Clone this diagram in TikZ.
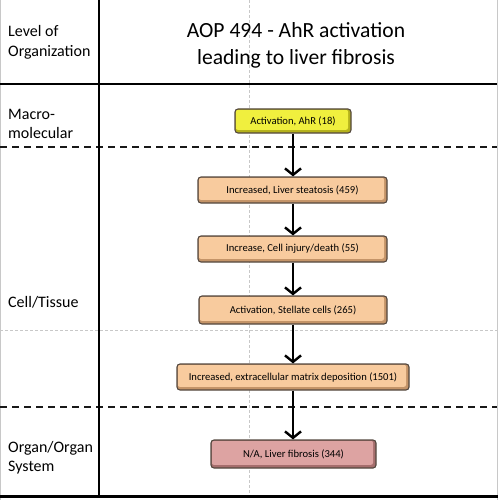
\documentclass[tikz,border=0pt]{standalone}
\usepackage{fontspec}
\setmainfont{Carlito}
\usetikzlibrary{arrows.meta}
\definecolor{peach}{HTML}{F8CB9E}
\definecolor{peachd}{HTML}{C49468}
\definecolor{yel}{HTML}{F0EF3E}
\definecolor{yeld}{HTML}{B5B21C}
\definecolor{pnk}{HTML}{DDA3A2}
\definecolor{pnkd}{HTML}{A66E6D}
\definecolor{bord}{HTML}{54483F}
\definecolor{gridg}{HTML}{C8C8C8}
\tikzset{
  keybox/.style 2 args={draw=bord, line width=1.1pt, rounded corners=3pt, fill=#2,
    font=\fontsize{10.6}{12}\selectfont, text=black, inner sep=0pt,
    path picture={\fill[#1, rounded corners=2pt]
      ([shift={(0.8pt,-0.8pt)}]path picture bounding box.north west) rectangle
      ([shift={(-3pt,3.2pt)}]path picture bounding box.south east);}},
  thickline/.style={line width=2.6pt, black},
  dline/.style={line width=1.9pt, black!90, dash pattern=on 7pt off 5pt},
  gline/.style={line width=0.6pt, gridg, dash pattern=on 3pt off 2pt},
  flow/.style={line width=2.4pt, -{Straight Barb[length=6.5pt,width=16pt,line width=2.4pt]}},
  lvl/.style={anchor=base west, font=\fontsize{16}{20}\selectfont, align=left, inner sep=0pt},
  ttl/.style={anchor=base, font=\fontsize{21.6}{27}\selectfont, inner sep=0pt},
}
\begin{document}
\begin{tikzpicture}[x=1pt,y=-1pt]
\useasboundingbox (0,0) rectangle (498,500);
% grid lines
\draw[line width=0.8pt, gridg] (0.8,0) -- (0.8,500);
\draw[line width=0.8pt, gridg] (497.4,0) -- (497.4,500);
\draw[gline] (249,0) -- (249,500);
\draw[gline] (0,330) -- (498,330);
% table lines
\draw[dline] (0,147) -- (497,147);
\draw[dline] (0,407) -- (497,407);
\draw[thickline] (0,84) -- (497,84);
\draw[thickline] (99,0) -- (99,497);
\draw[thickline] (0,496.5) -- (498,496.5);
% labels
\node[lvl] (l1) at (8,37) {Level of};
\node[lvl] (l1b) at (8,57) {Organization};
\node[lvl] (l2) at (8,119) {Macro-};
\node[lvl] (l2b) at (8,138) {molecular};
\node[lvl] (l3) at (8,307) {Cell/Tissue};
\node[lvl] (l4) at (8,452) {Organ/Organ};
\node[lvl] (l4b) at (8,471) {System};
\node[ttl] (t1) at (296,38) {AOP 494 - AhR activation};
\node[ttl] (t2) at (296,65) {leading to liver fibrosis};
% boxes
\node[keybox={yel}{yeld}, minimum width=116pt, minimum height=24pt] (a) at (293,121) {Activation, AhR (18)};
\node[keybox={peach}{peachd}, minimum width=189pt, minimum height=26pt] (b) at (292.5,190) {Increased, Liver steatosis (459)};
\node[keybox={peach}{peachd}, minimum width=189pt, minimum height=26pt] (c) at (292.5,249) {Increase, Cell injury/death (55)};
\node[keybox={peach}{peachd}, minimum width=188pt, minimum height=28pt] (d) at (293,310) {Activation, Stellate cells (265)};
\node[keybox={peach}{peachd}, minimum width=232pt, minimum height=26pt] (e) at (293,377) {Increased, extracellular matrix deposition (1501)};
\node[keybox={pnk}{pnkd}, minimum width=165pt, minimum height=28pt] (f) at (293.5,454) {N/A, Liver fibrosis (344)};
% arrows
\draw[flow] (a.south -| 293,0) -- (b.north -| 293,0);
\draw[flow] (b.south -| 293,0) -- (c.north -| 293,0);
\draw[flow] (c.south -| 293,0) -- (d.north -| 293,0);
\draw[flow] (d.south -| 293,0) -- (e.north -| 293,0);
\draw[flow] (e.south -| 293,0) -- (f.north -| 293,0);
\end{tikzpicture}
\end{document}
